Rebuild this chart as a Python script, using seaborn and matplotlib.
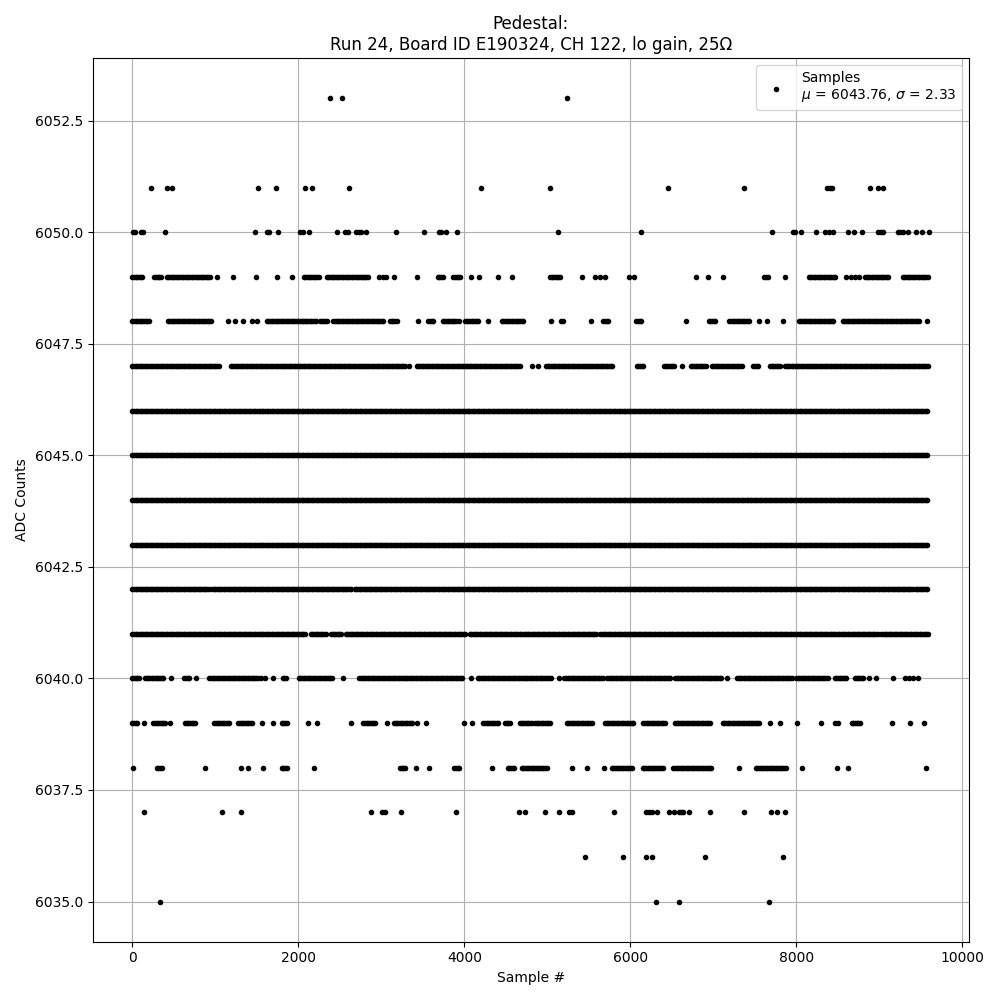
import numpy as np
import pandas as pd
import matplotlib
matplotlib.use('Agg')
import matplotlib.pyplot as plt
import seaborn as sns

# Pedestal samples: for each ADC level, the sample ranges
# that are densely filled and the isolated sample positions
runs_6049 = [(0, 125), (265, 354), (414, 936), (2064, 2249), (2341, 2843),
             (3679, 3747), (3867, 3948), (5032, 5153), (7614, 7663),
             (8149, 8486), (8827, 9108), (9281, 9599)]
runs_6048 = [(0, 205), (426, 956), (1618, 2221), (2261, 2341), (2422, 3024),
             (3104, 3185), (3566, 3626), (3739, 3908), (4008, 4169),
             (4450, 4711), (5169, 5205), (5675, 5747), (6072, 6145),
             (6944, 7032), (7193, 7434), (8028, 8466), (8558, 9490)]
runs_6047 = [(0, 1056), (1185, 3285), (3426, 4671), (4984, 5787), (6076, 6157),
             (6406, 6538), (6727, 6912), (6980, 7341), (7482, 7554),
             (7683, 7803), (7863, 9599)]
runs_6046 = [(0, 9599)]
runs_6045 = [(0, 9599)]
runs_6044 = [(0, 9599)]
runs_6043 = [(0, 9599)]
runs_6042 = [(0, 930), (960, 2640), (2680, 9405), (9440, 9599)]
runs_6041 = [(0, 2095), (2150, 2335), (2395, 2520), (2570, 4025),
             (4065, 5600), (5640, 8985), (9025, 9599)]
runs_6040 = [(0, 80), (153, 373), (627, 703), (928, 1498), (1811, 1859),
             (2004, 2422), (2735, 3980), (4161, 5052), (5205, 5683),
             (5723, 6498), (6538, 7108), (7285, 7964), (7996, 8386),
             (8462, 8607), (8707, 8807)]
runs_6039 = [(0, 72), (253, 394), (635, 767), (988, 1177), (1277, 1438),
             (1799, 1859), (2783, 2932), (3153, 3386), (4229, 4410),
             (4490, 4558), (4671, 4811), (4851, 5032), (5233, 5534),
             (5695, 6044), (6157, 6418), (6538, 6968), (7112, 7570),
             (8667, 8767)]
runs_6038 = [(293, 353), (1799, 1859), (3225, 3297), (3879, 3948),
             (4522, 4610), (4691, 4992), (5775, 6016), (6149, 6398),
             (6518, 6992), (7510, 7884)]

pts_6053 = [2385, 2530, 5241]
pts_6051 = [229, 422, 482, 1518, 1735, 2084, 2169, 2614, 4205, 5036, 6458,
            7373, 8375, 8400, 8430, 8892, 8988, 9048]
pts_6050 = [12, 36, 104, 133, 398, 1478, 1618, 1647, 1759, 2024, 2056, 2132,
            2470, 2566, 2602, 2699, 2727, 2759, 2819, 3177, 3514, 3695, 3719,
            3783, 3916, 5133, 6133, 7711, 7956, 7988, 8052, 8233, 8349, 8390,
            8438, 8626, 8699, 8791, 8984, 9016, 9048, 9225, 9249, 9281, 9349,
            9446, 9518, 9599]
pts_6049 = [1024, 1209, 1494, 1747, 1924, 2968, 3020, 3056, 3153, 3434, 4080,
            4181, 4406, 4570, 5418, 5574, 5635, 5695, 5980, 6044, 6795, 6940,
            7116, 7867, 8598, 8655, 8703, 8759]
pts_6048 = [1149, 1237, 1337, 1437, 1498, 3438, 3932, 4281, 5048, 5526, 6671,
            7554, 7651, 7843, 9578]
pts_6047 = [3337, 4819, 4892, 6626]
pts_6040 = [466, 767, 1510, 1550, 1598, 1691, 2534, 4076, 5145, 7169, 8880,
            8960, 9169, 9309, 9361, 9410, 9470]
pts_6039 = [141, 458, 1566, 1699, 2120, 2221, 2638, 3064, 3434, 3538, 4000,
            4092, 7683, 7803, 8004, 8301, 8466, 8506, 9157, 9373, 9542]
pts_6038 = [12, 880, 1309, 1398, 1578, 2193, 3422, 3578, 4329, 5297, 5474,
            5683, 7309, 8064, 8486, 8618, 9562]
pts_6037 = [145, 1084, 1313, 2879, 3012, 3044, 3237, 3904, 4663, 4731, 4976,
            5145, 5257, 5293, 5807, 6189, 6230, 6257, 6317, 6466, 6526, 6582,
            6614, 6639, 6711, 6964, 7373, 7695, 7771, 7867]
pts_6036 = [5450, 5916, 6189, 6257, 6904, 7843]
pts_6035 = [337, 6313, 6590, 7675]

mu, sigma = 6043.76, 2.33

levels = {
    6053: ([], pts_6053), 6051: ([], pts_6051), 6050: ([], pts_6050),
    6049: (runs_6049, pts_6049), 6048: (runs_6048, pts_6048),
    6047: (runs_6047, pts_6047), 6046: (runs_6046, []), 6045: (runs_6045, []),
    6044: (runs_6044, []), 6043: (runs_6043, []), 6042: (runs_6042, []),
    6041: (runs_6041, []), 6040: (runs_6040, pts_6040),
    6039: (runs_6039, pts_6039), 6038: (runs_6038, pts_6038),
    6037: ([], pts_6037), 6036: ([], pts_6036), 6035: ([], pts_6035),
}

rows = []
for adc, (runs, pts) in levels.items():
    xs = list(pts)
    for a, b in runs:
        xs.extend(range(a, b + 1, 20))
    rows += [(x, adc) for x in xs]
df = pd.DataFrame(rows, columns=['sample', 'adc'])

fig, ax = plt.subplots(figsize=(10, 10), dpi=100)
sns.scatterplot(data=df, x='sample', y='adc', ax=ax, color='black',
                marker='.', s=36, edgecolor='black', linewidth=1, zorder=3,
                label=f'Samples\n$\\mu$ = {mu:.2f}, $\\sigma$ = {sigma:.2f}')
ax.set_title('Pedestal:\nRun 24, Board ID E190324, CH 122, lo gain, 25Ω')
ax.set_xlabel('Sample #')
ax.set_ylabel('ADC Counts')
ax.grid(True)
ax.legend(loc='upper right')
plt.tight_layout()
plt.savefig('out.png', dpi=100)
plt.close()
